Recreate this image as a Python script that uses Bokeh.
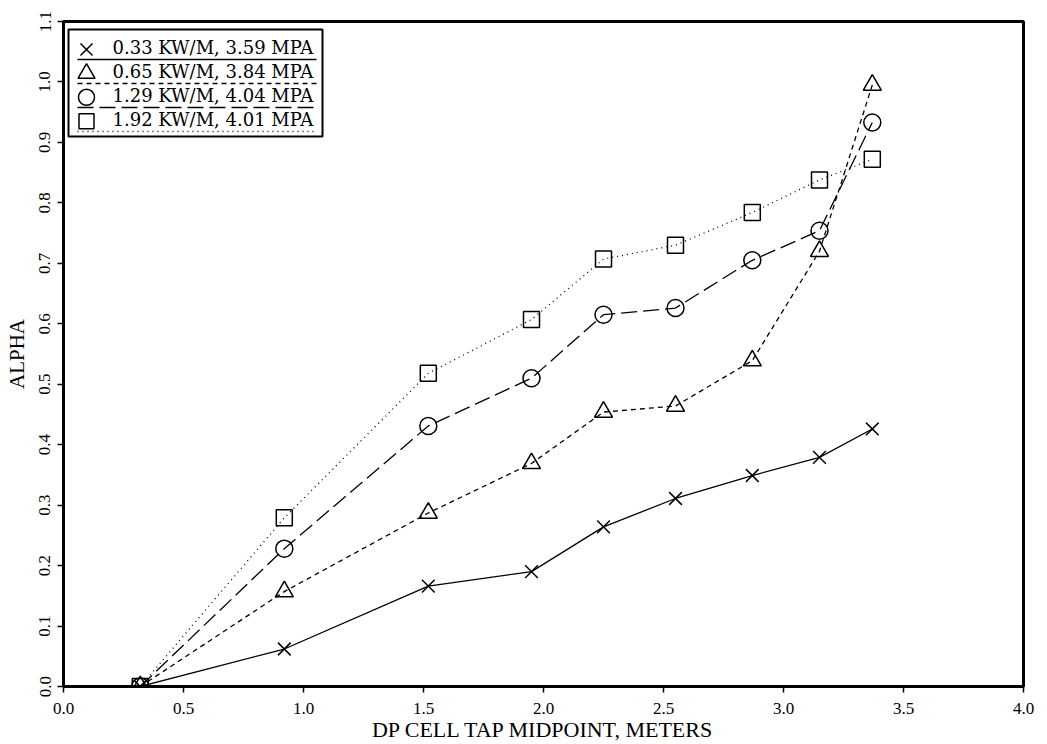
import math
from bokeh.plotting import figure
from bokeh.models import (Range1d, FixedTicker, PrintfTickFormatter, Arrow, Label,
                          BoxAnnotation)
from bokeh.embed import file_html
from bokeh.resources import INLINE

# ---- data ----
x_tap = [0.32, 0.92, 1.52, 1.95, 2.25, 2.55, 2.87, 3.15, 3.37]
alpha_033 = [0.0, 0.062, 0.166, 0.190, 0.264, 0.311, 0.349, 0.379, 0.426]
alpha_065 = [0.0, 0.157, 0.287, 0.369, 0.454, 0.464, 0.539, 0.720, 0.995]
alpha_129 = [0.0, 0.228, 0.431, 0.510, 0.615, 0.626, 0.705, 0.754, 0.933]
alpha_192 = [0.0, 0.279, 0.518, 0.607, 0.707, 0.730, 0.784, 0.838, 0.872]
series_labels = ["0.33 KW/M, 3.59 MPA", "0.65 KW/M, 3.84 MPA",
                 "1.29 KW/M, 4.04 MPA", "1.92 KW/M, 4.01 MPA"]
x_ticks = [0.0, 0.5, 1.0, 1.5, 2.0, 2.5, 3.0, 3.5, 4.0]
y_ticks = [0.0, 0.1, 0.2, 0.3, 0.4, 0.5, 0.6, 0.7, 0.8, 0.9, 1.0, 1.1]
x_title = "DP CELL TAP MIDPOINT, METERS"
y_title = "ALPHA"

W, H = 1047, 744
BL, BR, BT, BB = 63, 24, 21, 56
FW, FH = W - BL - BR, H - BT - BB
X0, X1, Y0, Y1 = 0.0, 4.0, 0.0, 1.1

p = figure(width=W, height=H, output_backend="svg", toolbar_location=None,
           x_range=Range1d(X0, X1), y_range=Range1d(Y0, Y1),
           min_border_left=BL, min_border_right=BR, min_border_top=BT, min_border_bottom=BB)
p.background_fill_color = "white"
p.border_fill_color = "white"
p.outline_line_color = "black"
p.outline_line_width = 3
p.xgrid.visible = False
p.ygrid.visible = False

SERIF = "Liberation Serif"
for ax in (p.xaxis, p.yaxis):
    ax.axis_line_color = None
    ax.major_tick_in = 0
    ax.major_tick_out = 6
    ax.major_tick_line_color = "black"
    ax.major_tick_line_width = 1.5
    ax.minor_tick_line_color = None
    ax.major_label_text_font = SERIF
    ax.major_label_text_font_size = "17px"
    ax.major_label_text_color = "black"
    ax.formatter = PrintfTickFormatter(format="%.1f")
    ax.axis_label_text_font = SERIF
    ax.axis_label_text_font_style = "normal"
    ax.axis_label_text_color = "black"

p.xaxis.ticker = FixedTicker(ticks=x_ticks)
p.yaxis.ticker = FixedTicker(ticks=y_ticks)
p.xaxis.major_label_standoff = 10
p.yaxis.major_label_standoff = 7
p.yaxis.major_label_orientation = "vertical"

p.xaxis.axis_label = x_title
p.xaxis.axis_label_text_font_size = "22px"
p.xaxis.axis_label_standoff = 0
p.yaxis.axis_label = y_title
p.yaxis.axis_label_text_font_size = "21px"
p.yaxis.axis_label_standoff = 8

series = [alpha_033, alpha_065, alpha_129, alpha_192]
dashes = ["solid", "5 4", "16 6", "1 4"]
markers = ["x", "triangle", "circle", "square"]
sizes = [18, 18, 17, 16]

for ys, dash, mk, sz in zip(series, dashes, markers, sizes):
    p.line(x_tap, ys, line_color="black", line_width=1.3, line_dash=dash)
    p.scatter(x_tap, ys, marker=mk, size=sz, fill_color=None,
              line_color="black", line_width=1.5)

# ---- legend box (built by hand, canvas pixel layout) ----
LG_L, LG_R, LG_T, LG_B = 68, 322, 31, 138
ROW0, ROW_H = 49, 24
MK_X, TXT_X, UL_X0, UL_X1 = 86, 112, 77, 316


def sx(px):  # canvas px -> frame screen x
    return px - BL


def sy(py):  # canvas px (from top) -> frame screen y (from bottom)
    return (H - BB) - py


def dx(px):  # canvas px -> data x
    return X0 + (px - BL) / FW * (X1 - X0)


def dy(py):  # canvas px -> data y
    return Y0 + ((H - BB) - py) / FH * (Y1 - Y0)


p.add_layout(BoxAnnotation(left=sx(LG_L), right=sx(LG_R), top=sy(LG_T), bottom=sy(LG_B),
                           left_units="screen", right_units="screen",
                           top_units="screen", bottom_units="screen",
                           fill_color="white", fill_alpha=1.0,
                           line_color="black", line_alpha=1.0, line_width=2,
                           level="underlay"))

for i, (dash, mk, sz, lab) in enumerate(zip(dashes, markers, sizes, series_labels)):
    yc = ROW0 + ROW_H * i
    p.add_layout(Label(x=sx(TXT_X), y=sy(yc), x_units="screen", y_units="screen",
                       text=lab, text_align="left", text_baseline="middle",
                       text_font="DejaVu Serif", text_font_size="18px",
                       text_color="black"))
    p.add_layout(Arrow(x_start=sx(UL_X0), y_start=sy(yc + 12), x_end=sx(UL_X1),
                       y_end=sy(yc + 12), start_units="screen", end_units="screen",
                       start=None, end=None, line_color="black", line_width=1.3,
                       line_dash=dash))
    p.scatter([dx(MK_X)], [dy(yc)], marker=mk, size=sz - 1, fill_color=None,
              line_color="black", line_width=1.5)

open("out.html", "w").write(file_html(p, INLINE))
